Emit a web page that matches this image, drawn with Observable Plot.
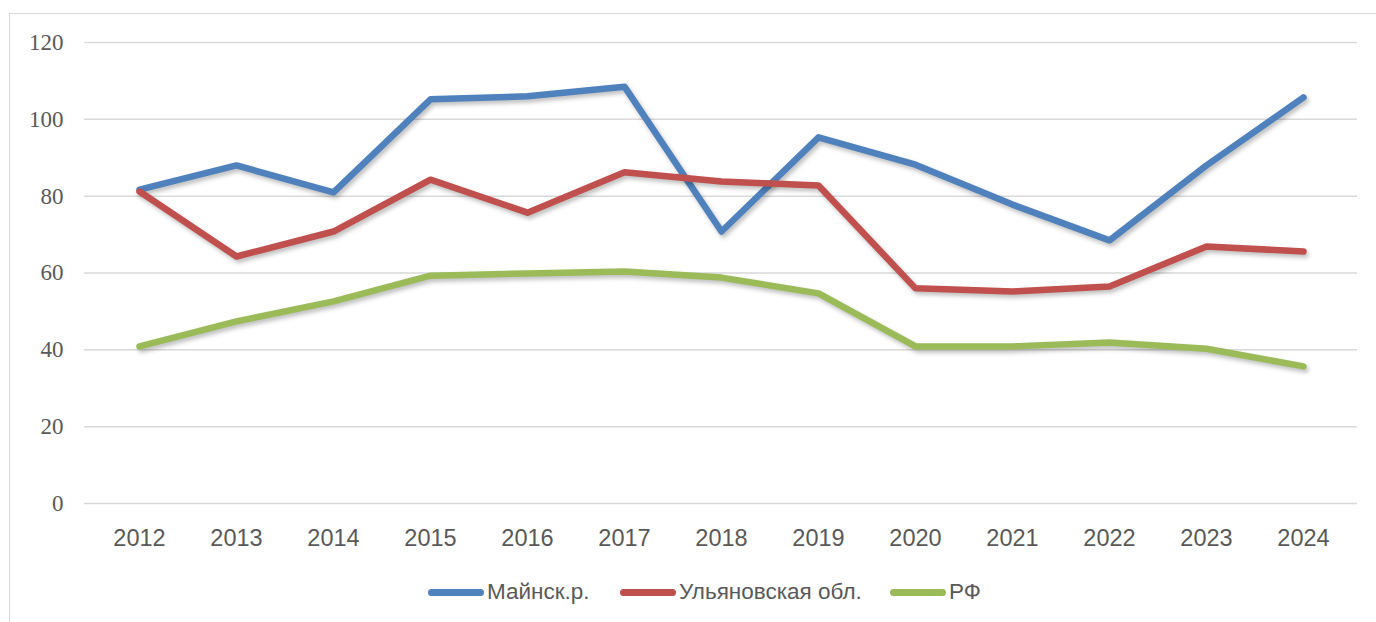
<!DOCTYPE html>
<html>
<head>
<meta charset="utf-8">
<script src="https://cdn.jsdelivr.net/npm/d3@7"></script>
<script src="https://cdn.jsdelivr.net/npm/@observablehq/plot@0.6"></script>
<style>
  html, body { margin: 0; padding: 0; background: #fff; }
  body { width: 1376px; height: 622px; position: relative; overflow: hidden; }
  #frame { position: absolute; left: 9px; top: 13px; width: 1400px; height: 700px; border: 1.5px solid #d9d9d9; box-sizing: border-box; }
  #chart { position: absolute; left: 0; top: 0; }
  #legend { position: absolute; top: 577px; left: 0; width: 1376px; height: 30px; }
  .item { position: absolute; top: 0; display: flex; align-items: center; font-family: "Liberation Sans", Arial, sans-serif; font-size: 22.5px; color: #595959; height: 30px; }
  .sw { width: 56px; height: 7px; border-radius: 3.5px; margin-right: 3px; }
  g[aria-label="line"] path { filter: drop-shadow(2px 3px 2px rgba(0,0,0,0.25)); }
</style>
</head>
<body>
<div id="frame"></div>
<div id="chart"></div>
<div id="legend"></div>
<script>
const years = [2012, 2013, 2014, 2015, 2016, 2017, 2018, 2019, 2020, 2021, 2022, 2023, 2024];
const seriesNames = ["Майнск.р.", "Ульяновская обл.", "РФ"];
const mainsk = [81.7, 88.0, 81.0, 105.2, 106.0, 108.5, 70.8, 95.3, 88.2, 77.8, 68.5, 88.0, 105.7];
const ulyanovsk = [81.2, 64.3, 70.8, 84.3, 75.7, 86.2, 83.8, 82.8, 56.0, 55.2, 56.5, 66.9, 65.6];
const rf = [40.9, 47.4, 52.6, 59.3, 59.9, 60.4, 58.8, 54.7, 40.9, 40.9, 41.9, 40.3, 35.7];
const yTicks = [0, 20, 40, 60, 80, 100, 120];
const colors = ["#4F81BD", "#C0504D", "#9BBB59"];

const valuesBySeries = [mainsk, ulyanovsk, rf];
const data = [];
seriesNames.forEach((s, i) => years.forEach((y, j) => data.push({series: s, year: String(y), value: valuesBySeries[i][j]})));

const chart = Plot.plot({
  width: 1376,
  height: 565,
  marginLeft: 84,
  marginRight: 19,
  marginTop: 42,
  marginBottom: 62,
  style: {background: "transparent", color: "#595959", overflow: "visible"},
  x: {type: "point", domain: years.map(String), padding: 0.5, label: null},
  y: {domain: [0, 120], label: null},
  color: {domain: seriesNames, range: colors},
  marks: [
    Plot.gridY(yTicks, {stroke: "#d9d9d9", strokeOpacity: 1, strokeWidth: 1.5}),
    Plot.axisY(yTicks, {tickSize: 0, tickPadding: 21, fontSize: 23, fontFamily: "Liberation Serif, Times New Roman, serif", fill: "#595959", label: null}),
    Plot.axisX({tickSize: 0, tickPadding: 26, fontSize: 23.5, fontFamily: "Liberation Sans, Arial, sans-serif", fill: "#595959", label: null}),
    Plot.line(data, {x: "year", y: "value", z: "series", stroke: "series", strokeWidth: 6.5, strokeLinejoin: "round", strokeLinecap: "round"})
  ]
});
document.getElementById("chart").appendChild(chart);

const legend = document.getElementById("legend");
const lefts = [428, 620, 890];
seriesNames.forEach((s, i) => {
  const it = document.createElement("div");
  it.className = "item";
  it.style.left = lefts[i] + "px";
  const sw = document.createElement("div");
  sw.className = "sw";
  sw.style.background = colors[i];
  const t = document.createElement("span");
  t.textContent = s;
  it.appendChild(sw); it.appendChild(t);
  legend.appendChild(it);
});
</script>
</body>
</html>
